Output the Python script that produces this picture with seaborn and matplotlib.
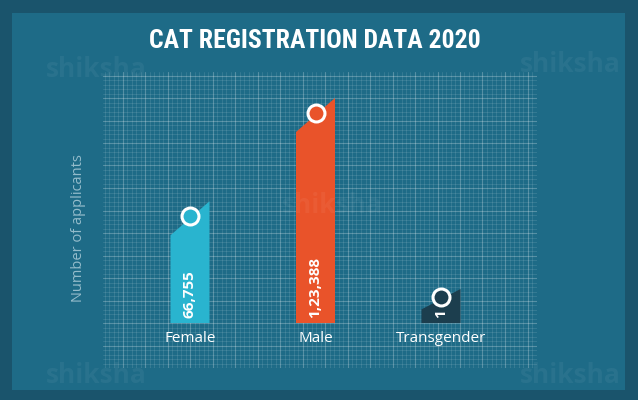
import numpy as np
import pandas as pd
import matplotlib
matplotlib.use("Agg")
import matplotlib.pyplot as plt
from matplotlib.patches import Polygon, Rectangle
from matplotlib.ticker import MultipleLocator
from matplotlib import font_manager
import seaborn as sns

# ---- data ----
categories = ["Female", "Male", "Transgender"]
applicants = [66755, 123388, 1]
bar_colors = ["#29b4cf", "#e9532a", "#1c3e4e"]
title = "CAT REGISTRATION DATA 2020"
y_label = "Number of applicants"

def indian_format(n):
    s = str(int(n))
    if len(s) <= 3:
        return s
    head, tail = s[:-3], s[-3:]
    parts = []
    while len(head) > 2:
        parts.insert(0, head[-2:])
        head = head[:-2]
    if head:
        parts.insert(0, head)
    return ",".join(parts) + "," + tail

value_labels = [indian_format(v) for v in applicants]

# ---- style ----
OUTER = "#1a546c"
INNER = "#1e6b87"
W, H = 638, 400
PX_PER_UNIT_X = 125.5
UNITS_PER_PX_Y = 123388 / 225.0
MIN_VISIBLE = 34 * UNITS_PER_PX_Y
CAP = 34 * UNITS_PER_PX_Y

sns.set_theme(style="white")
available = {f.name for f in font_manager.fontManager.ttflist}
body_font = "Open Sans" if "Open Sans" in available else "DejaVu Sans"
title_font = None
for cand in ["Liberation Sans Narrow", "DejaVu Sans Condensed", "Roboto Condensed"]:
    if cand in available:
        title_font = cand
        break
plt.rcParams["font.family"] = [body_font, "DejaVu Sans"]

fig = plt.figure(figsize=(W / 100, H / 100), dpi=100, facecolor=OUTER)
fig.patches.append(Rectangle((12 / W, 10 / H), (625 - 12) / W, (390 - 13) / H,
                             transform=fig.transFigure, facecolor=INNER,
                             edgecolor="none", zorder=-5))

ax_l, ax_r, ax_t, ax_b = 103, 537, 72, 368
ax = fig.add_axes([ax_l / W, 1 - ax_b / H, (ax_r - ax_l) / W, (ax_b - ax_t) / H])
ax.patch.set_alpha(0)

df = pd.DataFrame({"category": categories,
                   "shown": np.maximum(applicants, MIN_VISIBLE)})
bar_w = 39 / PX_PER_UNIT_X
sns.barplot(data=df, x="category", y="shown", hue="category",
            palette=bar_colors, width=bar_w, legend=False, ax=ax,
            saturation=1, zorder=3)

zero_px = 323
ax.set_xlim(-(190 - ax_l) / PX_PER_UNIT_X, 2 + (ax_r - 441) / PX_PER_UNIT_X)
ax.set_ylim(-(ax_b - zero_px) * UNITS_PER_PX_Y, (zero_px - ax_t) * UNITS_PER_PX_Y)

# grid
ax.xaxis.set_minor_locator(MultipleLocator(4.5 / PX_PER_UNIT_X))
ax.xaxis.set_major_locator(MultipleLocator(22.5 / PX_PER_UNIT_X))
ax.yaxis.set_minor_locator(MultipleLocator(4.5 * UNITS_PER_PX_Y))
ax.yaxis.set_major_locator(MultipleLocator(22.5 * UNITS_PER_PX_Y))
ax.grid(which="minor", color="white", alpha=0.12, linewidth=0.6, zorder=0)
ax.grid(which="major", color="white", alpha=0.25, linewidth=0.8, zorder=0)
ax.set_axisbelow(True)
ax.tick_params(which="both", length=0, labelbottom=False, labelleft=False)
for s in ax.spines.values():
    s.set_visible(False)
ax.set_xlabel("")

# slanted-top bars
patches = list(ax.patches)
for i, p in enumerate(patches):
    x, w, h = p.get_x(), p.get_width(), p.get_height()
    col = p.get_facecolor()
    p.remove()
    cap = min(CAP, 0.6 * h)
    ax.add_patch(Polygon([(x, 0), (x + w, 0), (x + w, h), (x, h - cap)],
                         closed=True, facecolor=col, edgecolor="none", zorder=3))
    cx = x + w / 2
    cy = h - cap / 2 + 2 * UNITS_PER_PX_Y
    ax.plot([cx], [cy], marker="o", markersize=12.2, markerfacecolor=col,
            markeredgecolor="white", markeredgewidth=2.2, zorder=5, linestyle="none")
    ax.text(cx, 5 * UNITS_PER_PX_Y, value_labels[i], rotation=90, ha="center",
            va="bottom", color="white", fontsize=11, fontweight="bold", zorder=6)
    ax.text(cx, -15 * UNITS_PER_PX_Y, categories[i], ha="center", va="center",
            color="white", fontsize=11, zorder=6)

ax.set_ylabel(y_label, color="#94bccb", fontsize=10.5)
ax.yaxis.set_label_coords(-(ax_l - 86) / (ax_r - ax_l), (ax_b - 228) / (ax_b - ax_t))

# title
tkw = dict(ha="center", va="center", color="white", fontsize=18.5, fontweight="bold")
if title_font:
    tkw["family"] = [title_font, "DejaVu Sans"]
else:
    tkw["fontstretch"] = "condensed"
fig.text(315 / W, 1 - 41 / H, title, **tkw)

# faint watermarks
for (wx, wy) in [(96, 77), (570, 72), (96, 383), (570, 383), (332, 213)]:
    fig.text(wx / W, 1 - wy / H, "shiksha", ha="center", va="baseline",
             color="white", alpha=0.05, fontsize=19, fontweight="bold", zorder=1)

fig.savefig("out.png", dpi=100, facecolor=OUTER)
